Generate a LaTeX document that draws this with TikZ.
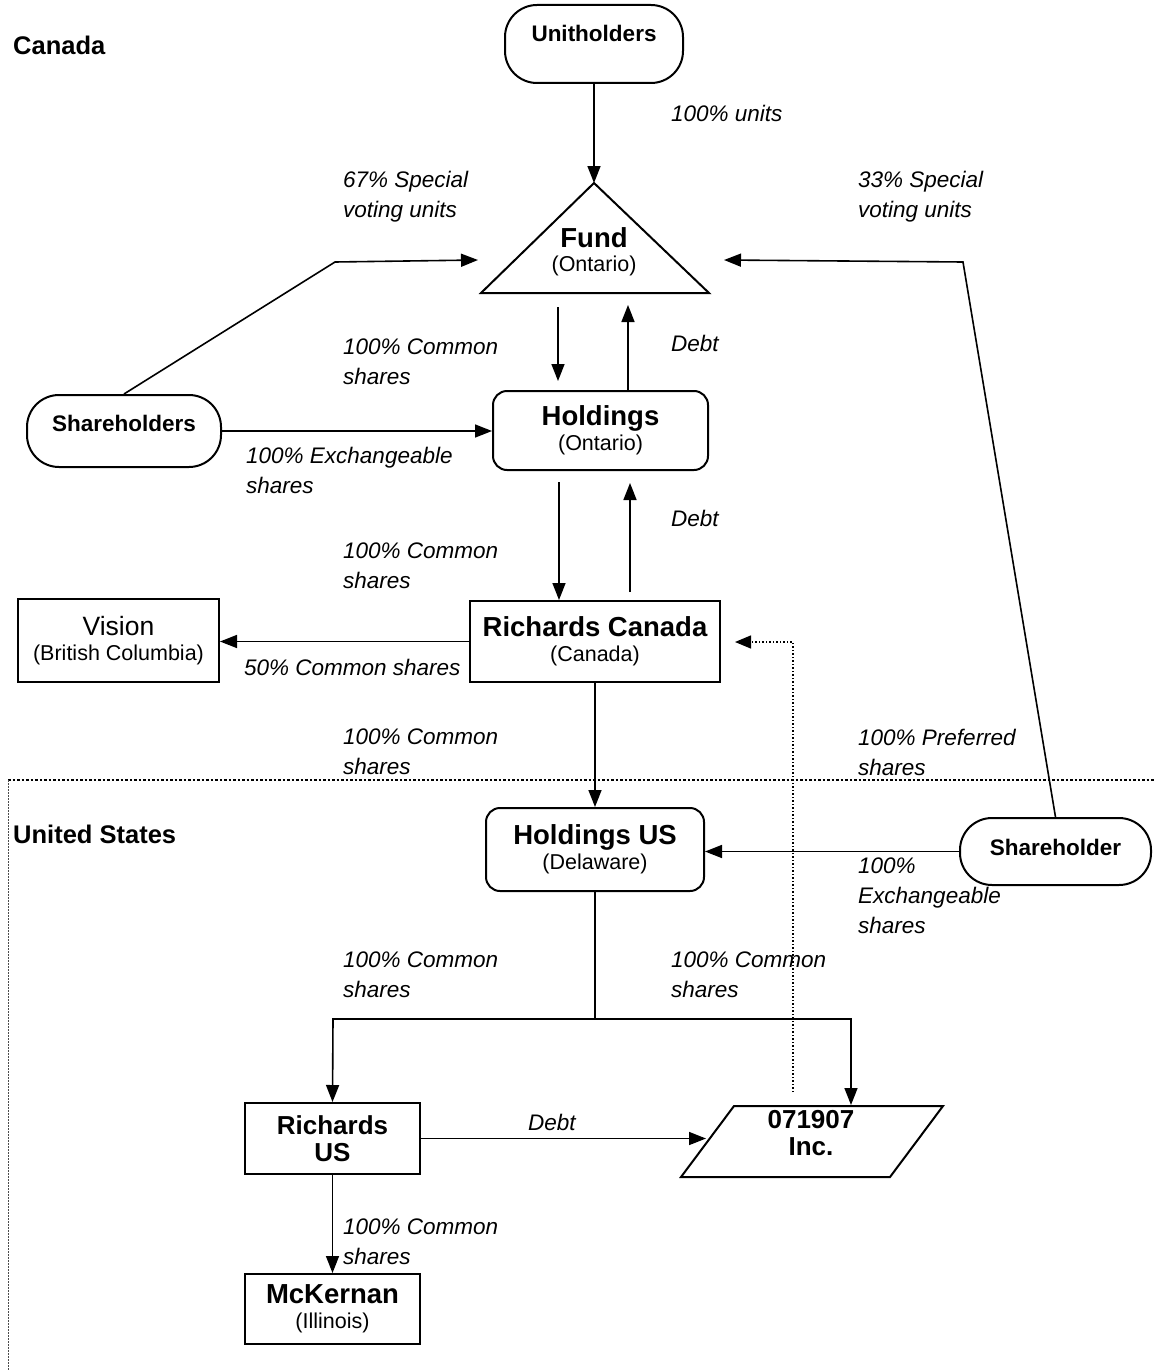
\documentclass[tikz,border=0pt]{standalone}
\usepackage{fontspec}
\setmainfont{Liberation Sans}
\usetikzlibrary{arrows.meta}
\newcommand\labf{\fontsize{22.5}{30}\selectfont\itshape}
\newcommand\ttlf{\fontsize{27.5}{25}\selectfont\bfseries}
\newcommand\subf{\fontsize{21.5}{25}\selectfont}
\begin{document}
\begin{tikzpicture}[x=1pt,y=-1pt,
  box/.style={draw, line width=2pt, inner sep=0pt, align=center, font=\subf},
  rbox/.style={box, rounded corners=14pt},
  pill/.style={box, rounded corners=32pt, font=\fontsize{22.5}{26}\selectfont\bfseries},
  lab/.style={font=\labf, anchor=west, align=left, inner sep=0pt},
  region/.style={font=\fontsize{25.5}{30}\selectfont\bfseries, anchor=west, inner sep=0pt},
  arr/.style={-{Triangle[length=17pt,width=13pt]}, line width=1.6pt},
  ln/.style={line width=1.6pt},
  dotarr/.style={-{Triangle[length=16pt,width=13pt]}, line width=1.4pt, dash pattern=on 1.5pt off 2pt},
  border/.style={line width=2.4pt, dash pattern=on 2.5pt off 2pt},
  thinborder/.style={line width=0.9pt, dash pattern=on 2pt off 1pt, black!70}
]
\useasboundingbox (0,0) rectangle (1154,1370);

% region labels and border
\node[region] (canada) at (13,45) {Canada};
\node[region] (us) at (13,834) {United States};
\coordinate (bl) at (8,780);
\coordinate (br) at (1154,780);
\coordinate (bb) at (8,1370);
\draw[border] (bl) -- (br);
\draw[thinborder] (bl) -- (bb);

% nodes
\node[pill, minimum width=178pt, minimum height=78pt, text depth=22pt] (unit) at (594,44) {Unitholders};
\coordinate (fA) at (594,183);
\coordinate (fL) at (481,293);
\coordinate (fR) at (709,293);
\draw[line width=2pt, line join=miter] (fL) -- (fA) -- (fR) -- cycle;
\node[font=\fontsize{21.5}{24}\selectfont, align=center, inner sep=0pt] (fund) at (594,252) {{\ttlf Fund}\\(Ontario)};

\node[pill, minimum width=194pt, minimum height=72pt, text depth=16pt] (sh1) at (124,431) {Shareholders};
\node[rbox, minimum width=215pt, minimum height=79pt] (holdings) at (600.5,430.5) {{\ttlf Holdings}\\(Ontario)};
\node[box, minimum width=250pt, minimum height=81pt] (rc) at (595,641.5) {{\ttlf Richards Canada}\\(Canada)};
\node[box, minimum width=201pt, minimum height=83pt] (vision) at (118.5,640.5) {{\fontsize{26.5}{25}\selectfont Vision}\\(British Columbia)};
\node[rbox, minimum width=218pt, minimum height=83pt] (hus) at (595,849.5) {{\ttlf Holdings US}\\(Delaware)};
\node[pill, minimum width=191pt, minimum height=67pt, text depth=9pt] (sh2) at (1055.5,851.5) {Shareholder};
\node[box, minimum width=175pt, minimum height=71pt, font=\fontsize{26}{26.5}\selectfont\bfseries] (rus) at (332.5,1138.5) {Richards\\US};
\node[box, minimum width=175pt, minimum height=70pt] (mck) at (332.5,1309) {{\ttlf McKernan}\\(Illinois)};
\coordinate (pBL) at (681,1177);
\coordinate (pTL) at (734,1106);
\coordinate (pTR) at (943,1106);
\coordinate (pBR) at (890,1177);
\draw[line width=2pt] (pBL) -- (pTL) -- (pTR) -- (pBR) -- cycle;
\node[font=\fontsize{26}{26.5}\selectfont\bfseries, align=center, inner sep=0pt] (inc) at (811,1133) {071907\\Inc.};

% connectors
\draw[arr] (unit.south) -- (fA);
\coordinate (fh1) at (558,307);
\coordinate (fh2) at (558,381);
\draw[arr] (fh1) -- (fh2);
\coordinate (hd2) at (628,305);
\draw[arr] (holdings.north -| hd2) -- (hd2);
\coordinate (hr1) at (559,482);
\draw[arr] (hr1) -- (rc.north -| hr1);
\coordinate (rh1) at (630,592);
\coordinate (rh2) at (630,483);
\draw[arr] (rh1) -- (rh2);
\draw[arr] (rc.west) -- (rc.west -| vision.east);
\draw[arr] (rc.south) -- (hus.north);
\draw[arr] (sh1.east) -- (sh1.east -| holdings.west);
\coordinate (b67) at (335,262);
\coordinate (t67) at (478,260);
\draw[arr] (sh1.north) -- (b67) -- (t67);
\coordinate (b33) at (963,262);
\coordinate (t33) at (724,260);
\draw[arr] (sh2.north) -- (b33) -- (t33);
\draw[arr] (sh2.west) -- (sh2.west -| hus.east);
\coordinate (j) at (595,1019);
\coordinate (jl) at (333,1019);
\coordinate (jr) at (851,1019);
\coordinate (incT) at (851,1105);
\draw[ln] (hus.south) -- (j);
\draw[arr] (j) -- (jl) -- (rus.north);
\draw[arr] (j) -- (jr) -- (incT);
\coordinate (incL) at (706,1139);
\draw[arr] (rus.east) -- (rus.east -| incL);
\draw[arr] (rus.south) -- (mck.north);
\coordinate (d1) at (793,1092);
\coordinate (d2) at (793,642);
\coordinate (d3) at (735,642);
\draw[dotarr] (d1) -- (d2) -- (d3);

% labels
\node[lab] (l1) at (671,113) {100\% units};
\node[lab] (l2) at (343,197) {67\% Special\\voting units};
\node[lab] (l3) at (858,197) {33\% Special\\voting units};
\node[lab] (l4) at (343,362) {100\% Common\\shares};
\node[lab] (l5) at (671,343) {Debt};
\node[lab] (l6) at (246,470) {100\% Exchangeable\\shares};
\node[lab] (l7) at (671,518) {Debt};
\node[lab] (l8) at (343,566) {100\% Common\\shares};
\node[lab] (l9) at (244,667) {50\% Common shares};
\node[lab] (l10) at (343,752) {100\% Common\\shares};
\node[lab] (l11) at (858,752) {100\% Preferred\\shares};
\node[lab] (l12) at (858,896) {100\%\\Exchangeable\\shares};
\node[lab] (l13) at (343,975) {100\% Common\\shares};
\node[lab] (l14) at (671,975) {100\% Common\\shares};
\node[lab] (l15) at (528,1122) {Debt};
\node[lab] (l16) at (343,1242) {100\% Common\\shares};
\end{tikzpicture}
\end{document}
